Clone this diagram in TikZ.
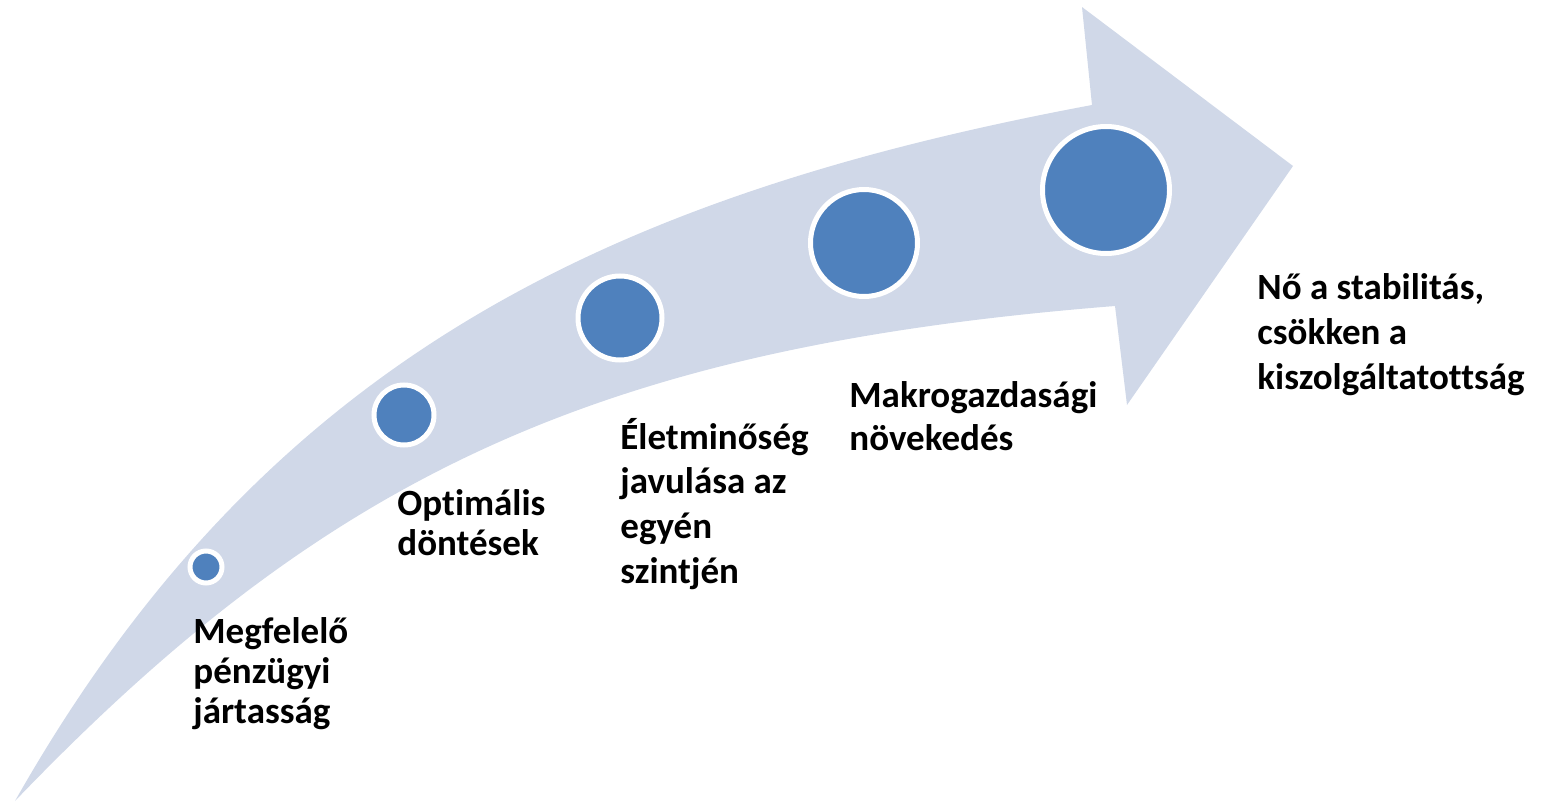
\documentclass[tikz,border=0pt]{standalone}
\usepackage{fontspec}
\setmainfont{Carlito}[Ligatures=NoCommon]
\definecolor{arrowfill}{RGB}{208,216,232}
\definecolor{dotblue}{RGB}{79,129,189}
\begin{document}
\begin{tikzpicture}[x=0.5pt,y=-0.5pt,
  dot/.style={circle,fill=dotblue,draw=white,line width=2.5pt,inner sep=0pt},
  lbl/.style={anchor=base west,align=left,inner sep=0pt},
  tight/.style={font=\fontsize{18.5pt}{20pt}\selectfont\bfseries},
  loose/.style={font=\fontsize{18.5pt}{22.3pt}\selectfont\bfseries},
  mid/.style={font=\fontsize{18.5pt}{21.5pt}\selectfont\bfseries}]
\useasboundingbox (0,0) rectangle (1544,803);
\fill[arrowfill] (15,801) .. controls (262,365) and (600,197) .. (1092,105)
  -- (1082,7) -- (1293,166) -- (1127,405) -- (1115,306)
  .. controls (597,347) and (327,476) .. (15,801) -- cycle;
\node[dot,minimum size=16pt] (d1) at (206,567) {};
\node[dot,minimum size=30pt] (d2) at (404,415) {};
\node[dot,minimum size=42pt] (d3) at (620,318) {};
\node[dot,minimum size=53.5pt] (d4) at (864,243) {};
\node[dot,minimum size=63.5pt] (d5) at (1106,190) {};
\node[lbl,tight] (t1) at (193,723) {Megfelelő\\pénzügyi\\jártasság};
\node[lbl,tight] (t2) at (397,555) {Optimális\\döntések};
\node[lbl,loose] (t3) at (620,583) {Életminőség\\javulása az\\egyén\\szintjén};
\node[lbl,mid] (t4) at (849,450) {Makrogazdasági\\növekedés};
\node[lbl,loose] (t5) at (1257,389) {Nő a stabilitás,\\csökken a\\kiszolgáltatottság};
\end{tikzpicture}
\end{document}
